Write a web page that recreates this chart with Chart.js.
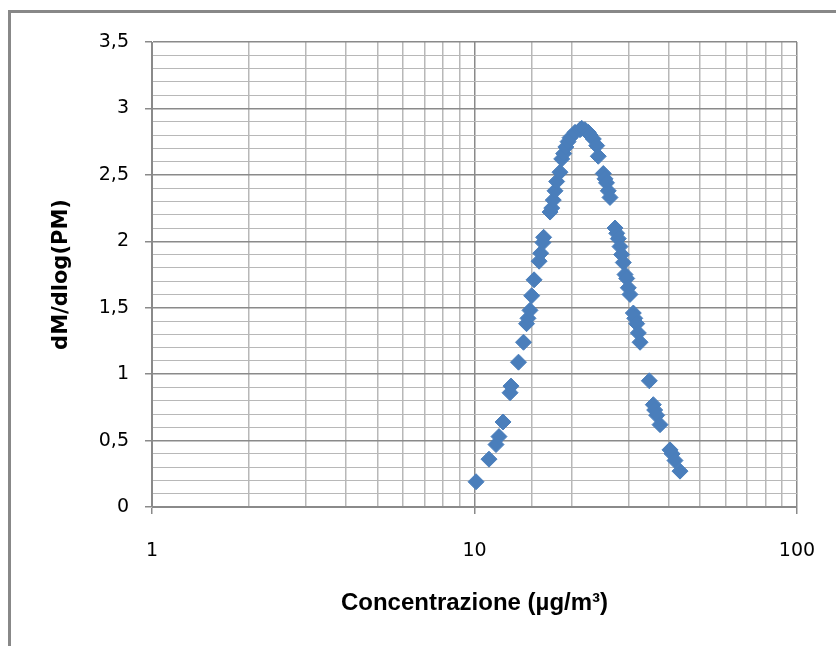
<!DOCTYPE html>
<html>
<head>
<meta charset="utf-8">
<script src="https://cdn.jsdelivr.net/npm/chart.js@4.4.0/dist/chart.umd.min.js"></script>
<style>
  html, body { margin: 0; padding: 0; background: #ffffff; overflow: hidden; }
  #wrap { position: relative; width: 836px; height: 646px; }
  #frame { position: absolute; left: 8px; top: 10px; width: 900px; height: 700px;
           border: 3px solid #888888; box-sizing: border-box; }
  #c { position: absolute; left: 0; top: 0; }
</style>
</head>
<body>
<div id="wrap">
  <div id="frame"></div>
  <canvas id="c" width="836" height="646"></canvas>
</div>
<script>
// Concentration (µg/m³) of each sample
const concentration = [
  10.11, 11.09, 11.66, 11.91, 12.26, 12.89, 12.98, 13.69, 14.19, 14.50,
  14.65, 14.86, 15.04, 15.30, 15.86, 16.04, 16.30, 16.38, 17.15, 17.36,
  17.55, 17.77, 17.98, 18.41, 18.64, 18.90, 19.20, 19.50, 19.78, 20.50,
  21.24, 21.50, 22.00, 22.54, 22.82, 23.36, 23.93, 24.20, 25.08, 25.39,
  25.66, 25.99, 26.31, 27.28, 27.61, 27.92, 28.26, 28.60, 28.93, 29.29,
  29.65, 29.99, 30.35, 31.08, 31.40, 31.84, 32.21, 32.61, 34.84, 35.85,
  36.20, 36.73, 37.61, 40.38, 41.00, 41.85, 43.37
];

// dM/dlog(PM) for each sample
const dMdlogPM = [
  0.19, 0.36, 0.47, 0.53, 0.64, 0.86, 0.91, 1.09, 1.24, 1.38,
  1.42, 1.48, 1.59, 1.71, 1.85, 1.91, 1.99, 2.03, 2.22, 2.25,
  2.31, 2.38, 2.45, 2.52, 2.62, 2.66, 2.71, 2.75, 2.78, 2.82,
  2.84, 2.85, 2.84, 2.82, 2.80, 2.77, 2.72, 2.64, 2.51, 2.47,
  2.44, 2.38, 2.33, 2.10, 2.06, 2.02, 1.96, 1.90, 1.84, 1.75,
  1.72, 1.65, 1.60, 1.46, 1.42, 1.38, 1.31, 1.24, 0.95, 0.77,
  0.73, 0.69, 0.62, 0.43, 0.40, 0.35, 0.27
];

// Axis ranges and labelled ticks
const xRange = [1, 100];
const xTickLabels = [1, 10, 100];
const yRange = [0, 3.5];
const yMinorStep = 0.1;
const yMajorStep = 0.5;

const points = concentration.map((c, i) => ({ x: c, y: dMdlogPM[i] }));

const MAJOR_GRID = '#8a8a8a';
const MINOR_GRID = '#b8b8b8';
const MARKER = '#4A7EBB';

const isYMajor = v => Math.abs(v / yMajorStep - Math.round(v / yMajorStep)) < 1e-6;
const isXMajor = v => xTickLabels.some(t => Math.abs(t - v) < 1e-9);

new Chart(document.getElementById('c'), {
  type: 'scatter',
  data: {
    datasets: [{
      data: points,
      pointStyle: 'rectRot',
      pointRadius: 8,
      pointHoverRadius: 8,
      backgroundColor: MARKER,
      borderColor: MARKER,
      borderWidth: 1,
      showLine: false
    }]
  },
  options: {
    responsive: false,
    animation: false,
    devicePixelRatio: 1,
    layout: { padding: { left: 0, top: 42, right: 39, bottom: 0 } },
    plugins: {
      legend: { display: false },
      tooltip: { enabled: false }
    },
    scales: {
      x: {
        type: 'logarithmic',
        min: xRange[0],
        max: xRange[1],
        afterFit: s => { s.height = 139; s.paddingLeft = 0; s.paddingRight = 0; },
        border: { display: true, color: MAJOR_GRID, width: 1 },
        grid: {
          color: ctx => (ctx.tick && isXMajor(ctx.tick.value)) ? MAJOR_GRID : MINOR_GRID,
          lineWidth: 1.5,
          tickColor: ctx => (ctx.tick && isXMajor(ctx.tick.value)) ? MAJOR_GRID : 'rgba(0,0,0,0)',
          tickLength: 7,
          drawTicks: true
        },
        ticks: {
          autoSkip: false,
          maxRotation: 0,
          padding: 26,
          color: '#000000',
          font: { family: 'DejaVu Sans', size: 19 },
          callback: v => isXMajor(v) ? String(v) : ''
        },
        title: {
          display: true,
          text: 'Concentrazione (µg/m³)',
          color: '#000000',
          font: { family: 'Liberation Sans Narrow, Liberation Sans, sans-serif', size: 24, weight: 'bold' },
          padding: { top: 0, bottom: 28 }
        }
      },
      y: {
        type: 'linear',
        min: yRange[0],
        max: yRange[1],
        afterFit: s => { s.width = 152; s.paddingTop = 0; s.paddingBottom = 0; },
        border: { display: true, color: MAJOR_GRID, width: 1 },
        grid: {
          color: ctx => (ctx.tick && isYMajor(ctx.tick.value)) ? MAJOR_GRID : MINOR_GRID,
          lineWidth: ctx => (ctx.tick && isYMajor(ctx.tick.value)) ? 1.5 : 1,
          tickColor: ctx => (ctx.tick && isYMajor(ctx.tick.value)) ? MAJOR_GRID : 'rgba(0,0,0,0)',
          tickLength: 7,
          drawTicks: true
        },
        ticks: {
          stepSize: yMinorStep,
          autoSkip: false,
          padding: 16,
          color: '#000000',
          font: { family: 'DejaVu Sans', size: 19 },
          callback: v => isYMajor(v) ? String(Math.round(v * 10) / 10).replace('.', ',') : ''
        },
        title: {
          display: true,
          text: 'dM/dlog(PM)',
          color: '#000000',
          font: { family: 'DejaVu Sans', size: 21, weight: 'bold' },
          padding: { top: 49, bottom: 0 }
        }
      }
    }
  }
});
</script>
</body>
</html>
